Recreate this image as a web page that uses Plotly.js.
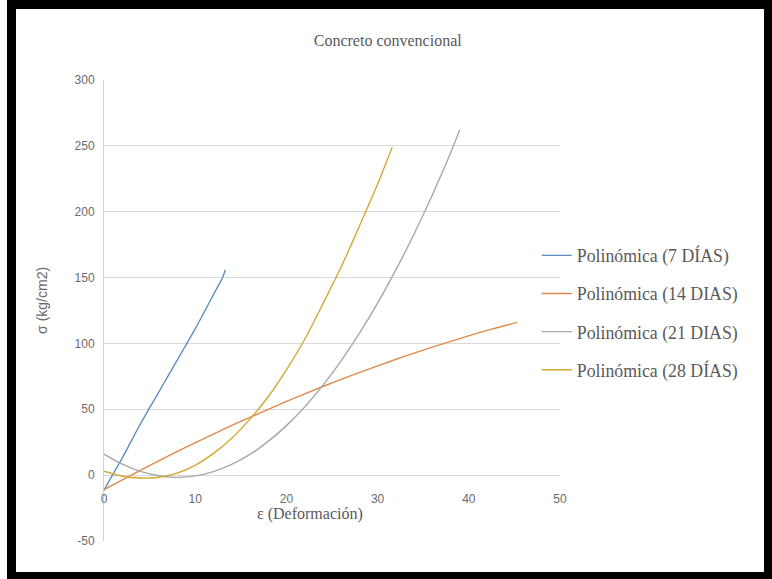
<!DOCTYPE html>
<html>
<head>
<meta charset="utf-8">
<script src="https://cdn.plot.ly/plotly-3.0.1.min.js"></script>
<style>
html,body{margin:0;padding:0;background:#fff;width:772px;height:579px;overflow:hidden;}
#frame{position:absolute;left:7px;top:0;width:765px;height:579px;background:#000;}
#chart{position:absolute;left:16px;top:9px;width:748px;height:563px;background:#fff;}
</style>
</head>
<body>
<div id="frame"></div>
<div id="chart"></div>
<script>
// Trendline readings (x = deformation, y = stress)
const x7 = [0, 1, 2, 3, 4, 5, 6, 7, 8, 9, 10, 11, 12, 13, 13.3];
const y7 = [-11.5, 1, 13, 26, 39, 51, 63, 75, 87, 99, 111, 124, 137, 150, 156];

const x14 = [0, 3, 6, 9, 12, 15, 18, 21, 24, 27, 30, 33, 36, 39, 42, 45.3];
const y14 = [-11, 0.1, 10.9, 21.2, 31.2, 40.8, 50, 58.8, 67.3, 75.3, 83, 90.3, 97.2, 103.7, 109.9, 116];

const x21 = [0, 2, 4, 6, 8, 10, 12, 14, 16, 18, 20, 22, 24, 26, 28, 30, 32, 34, 36, 38, 39];
const y21 = [16, 8.3, 2.8, -0.5, -1.7, -0.6, 2.7, 8.1, 15.7, 25.6, 37.6, 51.8, 68.2, 86.8, 107.6, 130.6, 155.8, 183.1, 212.7, 244.5, 262];

const x28 = [0, 2, 4, 6, 8, 10, 12, 14, 16, 18, 20, 22, 24, 26, 28, 30, 31.6];
const y28 = [3, -0.8, -2.2, -1.6, 1.5, 7.5, 16.5, 28, 42.5, 59.5, 80, 103, 130, 158, 189, 221, 249];

const names = ["Polinómica (7 DÍAS)", "Polinómica (14 DIAS)", "Polinómica (21 DIAS)", "Polinómica (28 DÍAS)"];
const colors = ["#5b8fc4", "#e0894a", "#a8a8a8", "#d2a832"];
const xs = [x7, x14, x21, x28];
const ys = [y7, y14, y21, y28];

const xTicks = [0, 10, 20, 30, 40, 50];
const yTicks = [-50, 0, 50, 100, 150, 200, 250, 300];

const traces = xs.map((xv, i) => ({
  x: xv, y: ys[i], type: 'scatter', mode: 'lines',
  name: names[i], legendgroup: 'g' + i,
  line: {color: colors[i], width: 1.4, shape: 'spline', smoothing: 0.8},
  hoverinfo: 'skip'
}));

const tickFont = {family: 'Liberation Sans', size: 12, color: '#6a6a6a'};

const layout = {
  width: 748, height: 563,
  margin: {l: 88, r: 204, t: 71, b: 31},
  paper_bgcolor: '#fff', plot_bgcolor: '#fff',
  title: {
    text: 'Concreto convencional',
    font: {family: 'Liberation Serif', size: 16, color: '#595959'},
    x: 0.497, xref: 'container', xanchor: 'center',
    y: 0.945, yref: 'container', yanchor: 'middle'
  },
  xaxis: {
    range: [0, 50], tickvals: xTicks, ticktext: xTicks.map(String),
    showgrid: false, zeroline: false, showline: false, ticks: '',
    anchor: 'free', position: 0.11,
    tickfont: tickFont, fixedrange: true
  },
  yaxis: {
    range: [-50, 300], tickvals: yTicks, ticktext: yTicks.map(String),
    showgrid: true, gridcolor: '#d9d9d9', gridwidth: 1,
    zeroline: false, showline: true, linecolor: '#d0d0d0', linewidth: 1,
    ticks: '', ticklabelstandoff: 6,
    tickfont: tickFont, fixedrange: true
  },
  showlegend: true,
  legend: {
    x: 0.949, xanchor: 'left', y: 0.495, yanchor: 'middle',
    font: {family: 'Liberation Serif', size: 17.8, color: '#595959'},
    bgcolor: 'rgba(0,0,0,0)', tracegroupgap: 12, traceorder: 'grouped'
  },
  annotations: [
    {text: 'ε (Deformación)', xref: 'paper', yref: 'paper', x: 0.452, y: 0.058,
     xanchor: 'center', yanchor: 'middle', showarrow: false,
     font: {family: 'Liberation Serif', size: 16, color: '#595959'}},
    {text: 'σ (kg/cm2)', xref: 'paper', yref: 'paper', x: -0.136, y: 0.523,
     xanchor: 'center', yanchor: 'middle', showarrow: false, textangle: -90,
     font: {family: 'Liberation Sans', size: 14, color: '#6a6a6a'}}
  ]
};

Plotly.newPlot('chart', traces, layout, {staticPlot: true, displayModeBar: false});
</script>
</body>
</html>
